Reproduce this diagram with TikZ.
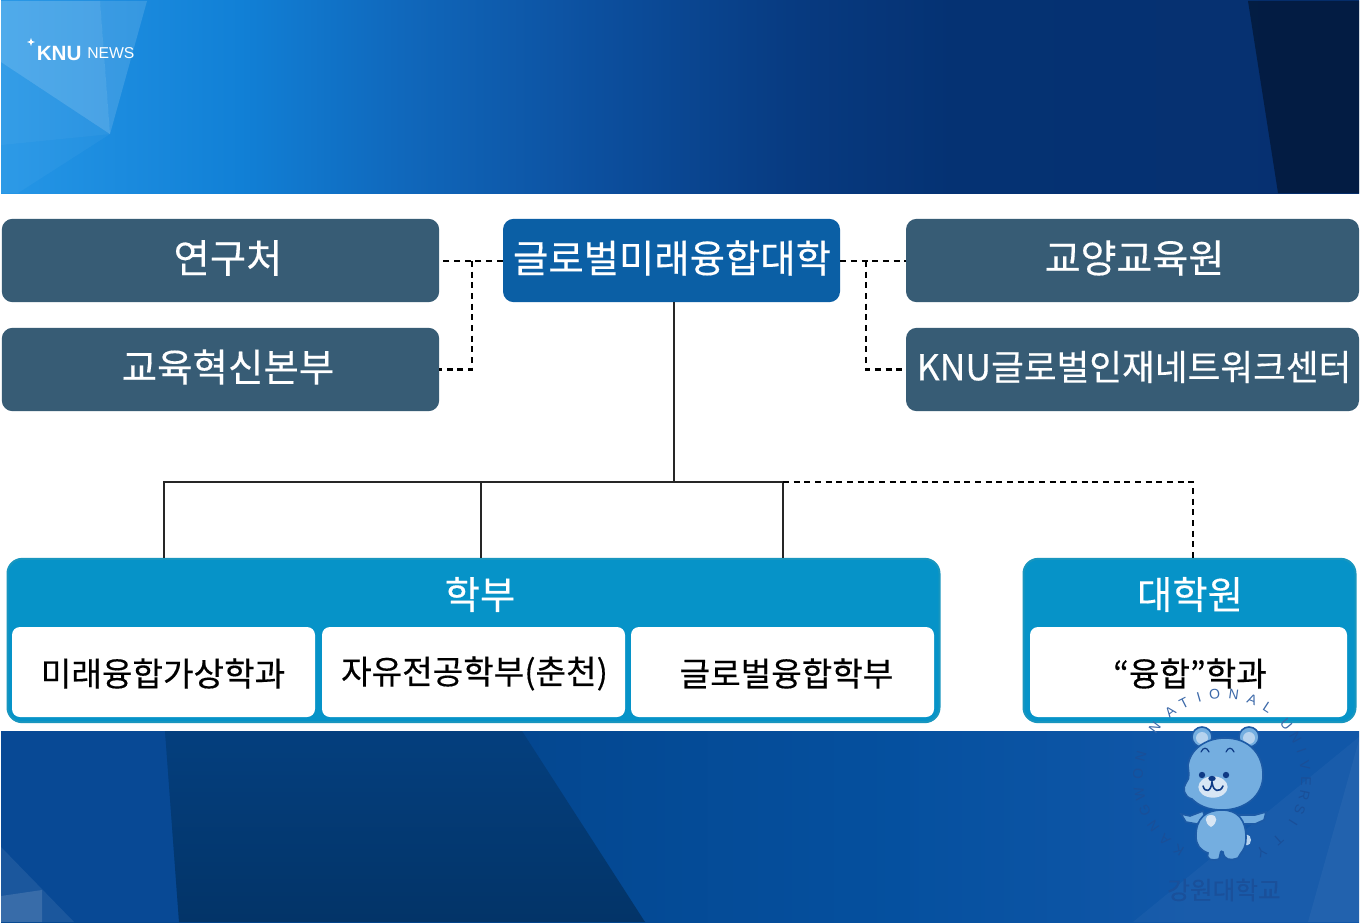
\documentclass[tikz,border=0pt]{standalone}
\usepackage{fontspec}
\setmainfont[FakeBold=0.35]{Noto Sans CJK KR}
\newfontfamily\latinfont{Liberation Sans}
\usetikzlibrary{calc}
\definecolor{slatebox}{HTML}{375C75}
\definecolor{collegebox}{HTML}{0B5FA5}
\definecolor{tealbox}{HTML}{0693C8}
\definecolor{tealedge}{HTML}{1896BF}
\definecolor{bearfill}{HTML}{74AEE0}
\definecolor{bearlight}{HTML}{B7D3EE}
\definecolor{bearpale}{HTML}{D8E6F4}
\definecolor{bearedge}{HTML}{1C5AA6}
\definecolor{beardark}{HTML}{0E3A85}
\definecolor{sealtext}{HTML}{1A509A}
\definecolor{ta}{HTML}{2596E6}\definecolor{tb}{HTML}{1180D6}\definecolor{tc}{HTML}{1068BC}
\definecolor{td}{HTML}{0C4F9E}\definecolor{te}{HTML}{073A80}\definecolor{tf}{HTML}{053273}\definecolor{tg}{HTML}{063070}
\definecolor{bb}{HTML}{044790}\definecolor{bc}{HTML}{05509F}
\definecolor{bd}{HTML}{1157A8}\definecolor{bl}{HTML}{084995}
\definecolor{darktop}{HTML}{043F7E}\definecolor{darkbot}{HTML}{033468}
\pgfdeclarehorizontalshading{topband}{100bp}{
  color(0bp)=(ta); color(25bp)=(ta); color(33.8bp)=(tb); color(39.7bp)=(tc);
  color(47bp)=(td); color(54.4bp)=(te); color(60bp)=(tf); color(75bp)=(tg); color(100bp)=(tg)}
\pgfdeclarehorizontalshading{botband}{100bp}{
  color(0bp)=(bb); color(44bp)=(bb);
  color(58bp)=(bc); color(69bp)=(bd); color(100bp)=(bd)}
\tikzset{
  x=0.75pt,y=-0.75pt,
  sizetxt/.style={font=\fontsize{#1}{#1}\selectfont},
  whitetxt/.style={text=white,inner sep=0pt,sizetxt=29pt},
  blacktxt/.style={text=black,inner sep=0pt,sizetxt=24.9pt},
  box/.style={rounded corners=8pt,inner sep=0pt,anchor=center},
  slatenode/.style={box,fill=slatebox,minimum width=328pt,minimum height=62.5pt},
  outernode/.style={box,rounded corners=11pt,fill=tealbox,draw=tealedge,line width=1.5pt,minimum height=122.5pt},
  innernode/.style={box,rounded corners=6pt,fill=white,minimum height=67.5pt},
  solidline/.style={draw=black!85,line width=0.85pt},
  dashline/.style={draw=black,line width=1.7pt,dash pattern=on 4.5pt off 3.5pt},
  facet/.style={fill=white,opacity=#1,draw=none},
  darkfacet/.style={fill=black,opacity=#1,draw=none},
}
\begin{document}
\begin{tikzpicture}
\useasboundingbox (0,0) rectangle (1360,924);
\fill[white] (0,0) rectangle (1360,924);
% top band
\shade[shading=topband] (1,1) rectangle (1359,193);
\fill[facet=0.20] (1,1) -- (100,1) -- (110,134) -- (1,62) -- cycle;
\fill[facet=0.13] (100,1) -- (147,1) -- (110,134) -- cycle;
\fill[facet=0.07] (1,62) -- (110,134) -- (1,145) -- cycle;
\fill[facet=0.04] (1,145) -- (110,134) -- (18,193) -- (1,193) -- cycle;
\fill[darkfacet=0.40] (1248,1) -- (1359,1) -- (1359,193) -- (1278,193) -- cycle;
% bottom band
\shade[shading=botband] (1,731) rectangle (1359,922);
\fill[fill=bl,draw=none] (1,731) -- (165,731) -- (179,922) -- (1,922) -- cycle;
\fill[facet=0.08] (1,847) -- (74,922) -- (1,922) -- cycle;
\fill[facet=0.13] (1,896) -- (42,890) -- (42,922) -- (1,922) -- cycle;
\shade[top color=darktop,bottom color=darkbot] (165,731) -- (522,731) -- (645,922) -- (179,922) -- cycle;
\fill[facet=0.035] (1133,922) -- (1359,737) -- (1359,922) -- cycle;
\fill[facet=0.04] (1308,922) -- (1359,740) -- (1359,922) -- cycle;
% boxes
\node[slatenode] (yeon) at (220.5,260.5) {};
\node[slatenode] (inno) at (220.5,369.5) {};
\node[box,fill=collegebox,minimum width=252.75pt,minimum height=62.5pt] (coll) at (671.5,260.5) {};
\node[slatenode,minimum width=339.75pt] (gyo) at (1132.5,260.5) {};
\node[slatenode,minimum width=339.75pt] (knu) at (1132.5,369.5) {};
\node[outernode,minimum width=699pt] (hak) at (473.5,640.5) {};
\node[outernode,minimum width=249pt] (grad) at (1189.5,640.5) {};
\node[innernode,minimum width=227.25pt] (i1) at (163.5,672) {};
\node[innernode,minimum width=227.25pt] (i2) at (473.5,672) {};
\node[innernode,minimum width=227.25pt] (i3) at (782.5,672) {};
\node[innernode,minimum width=237.75pt] (i4) at (1188.5,672) {};
% texts
\node[whitetxt,sizetxt=29.6pt] (t1) at (228,258) {연구처};
\node[whitetxt,sizetxt=28.9pt] (t2) at (228,367) {교육혁신본부};
\node[whitetxt,sizetxt=28.8pt] (t3) at (672,258) {글로벌미래융합대학};
\node[whitetxt,sizetxt=29.3pt] (t4) at (1134.5,258) {교양교육원};
\node[whitetxt,sizetxt=26.7pt] (t5) at (1134,367) {KNU글로벌인재네트워크센터};
\node[whitetxt,sizetxt=28.8pt] (t6) at (480,594.5) {학부};
\node[whitetxt,sizetxt=28.8pt] (t7) at (1190,594.5) {대학원};
\node[blacktxt] (t8) at (163,673.5) {미래융합가상학과};
\node[blacktxt] (t9) at (474.5,673.5) {자유전공학부(춘천)};
\node[blacktxt] (t10) at (786.5,673.5) {글로벌융합학부};
\node[blacktxt] (t11) at (1190,673.5) {“융합”학과};
% connectors
\coordinate (bus) at (674,482);
\coordinate (d1) at (164,482);
\coordinate (d2) at (481,482);
\coordinate (d3) at (783,482);
\coordinate (d4) at (1193,482);
\coordinate (lj) at (472,261);
\coordinate (rj) at (866,261);
\draw[solidline] (bus |- coll.south) -- (bus);
\draw[solidline] (d1 |- hak.north) -- (d1) -- (d3) -- (d3 |- hak.north);
\draw[solidline] (d2) -- (d2 |- hak.north);
\draw[dashline] (d3) -- (d4) -- (d4 |- grad.north);
\draw[dashline] (coll.west |- lj) -- (yeon.east |- lj);
\draw[dashline] (lj) -- (lj |- inno.east) -- (inno.east);
\draw[dashline] (coll.east |- rj) -- (gyo.west |- rj);
\draw[dashline] (rj) -- (rj |- knu.west) -- (knu.west);
% logo
\node[text=white,inner sep=0pt,anchor=west,font=\latinfont\bfseries\fontsize{15.5pt}{15.5pt}\selectfont] (logoa) at (36.5,53) {KNU};
\node[text=white,inner sep=0pt,anchor=west,font=\latinfont\fontsize{11.8pt}{11.8pt}\selectfont] (logob) at (87,53) {NEWS};
\fill[white] (31,38) .. controls (31.5,41) and (32,41.5) .. (35,42) .. controls (32,42.5) and (31.5,43) .. (31,46) .. controls (30.5,43) and (30,42.5) .. (27,42) .. controls (30,41.5) and (30.5,41) .. (31,38) -- cycle;
% seal lettering
\foreach \ch/\ang/\col in {K/-149/1A4F98,A/-137/1A4F98,N/-125/1A4F98,G/-113/1A4F98,W/-101/1A4F98,O/-87/1A4F98,N/-75/1A4F98,%
  N/-53/3C69A9,A/-38/3C69A9,T/-27/3C69A9,I/-16/3C69A9,O/-5/3C69A9,N/8/3C69A9,A/21/3C69A9,L/33/3C69A9,%
  U/50/3C69A9,N/61/1A4F98,I/71/1A4F98,V/81/1A4F98,E/92/1A4F98,R/102/1A4F98,S/112/1A4F98,I/122/1A4F98,T/138/1A4F98,Y/152/1A4F98}{
  \definecolor{sealc}{HTML}{\col}
  \node[text=sealc,inner sep=0pt,rotate=-\ang,font=\latinfont\fontsize{10.5pt}{10.5pt}\selectfont] at ({1222+84*sin(\ang)},{778-84*cos(\ang)}) {\ch};
}
\node[text=sealtext,inner sep=0pt,font=\fontsize{18.5pt}{18.5pt}\selectfont] (seal) at (1224,890) {강원대학교};
% bear mascot
\begin{scope}[draw=bearedge,line width=1.2pt]
\draw[fill=bearfill] (1202,737) circle (7.5pt);
\draw[fill=bearfill] (1249,737) circle (7.5pt);
\fill[fill=bearlight] (1202,738) circle (4.5pt);
\fill[fill=bearlight] (1249,738) circle (4.5pt);
% tail
\fill[fill=bearlight] (1247,840) ellipse (3pt and 4pt);
% arms
\draw[fill=bearfill] (1203,811) -- (1190,816) -- (1181,814) -- (1186,822) -- (1197,824) -- (1205,818) -- cycle;
\draw[fill=bearfill] (1238,815) -- (1255,815) -- (1266,812) -- (1264,820) -- (1255,824) -- (1241,824) -- cycle;
% body and feet
\draw[fill=bearfill] (1196,836) .. controls (1196,818) and (1206,810) .. (1222,810) .. controls (1238,810) and (1246,820) .. (1246,838) .. controls (1246,850) and (1240,853) .. (1238,858) .. controls (1230,861) and (1224,860) .. (1223,852) .. controls (1220,850) and (1221,852) .. (1219,859) .. controls (1212,861) and (1206,860) .. (1208,853) .. controls (1200,850) and (1196,845) .. (1196,836) -- cycle;
\fill[fill=bearpale] (1211,815) .. controls (1204,815) and (1204,823) .. (1211,827) .. controls (1218,823) and (1218,815) .. (1211,815) -- cycle;
% head
\draw[fill=bearfill] (1225,738) .. controls (1250,738) and (1263,755) .. (1263,775) .. controls (1263,796) and (1245,810) .. (1222,810) .. controls (1207,810) and (1198,805) .. (1192,799) .. controls (1184,797) and (1182,788) .. (1186,783) .. controls (1191,778) and (1188,770) .. (1188,765) .. controls (1190,750) and (1205,738) .. (1225,738) -- cycle;
\fill[fill=bearpale] (1213,787) ellipse (11pt and 8pt);
\end{scope}
\fill[beardark] (1202,775) circle (2.4pt);
\fill[beardark] (1226,775) circle (2.4pt);
\fill[beardark] (1212,778.5) ellipse (2.8pt and 2pt);
\draw[beardark,line width=1.2pt,line cap=round] (1203,786) .. controls (1205,793) and (1211,792) .. (1212,782) .. controls (1213,792) and (1220,793) .. (1223,786);
\draw[beardark,line width=0.9pt,line cap=round] (1201,752) .. controls (1203,747) and (1207,747) .. (1209,752);
\draw[beardark,line width=0.9pt,line cap=round] (1226,752) .. controls (1228,747) and (1232,747) .. (1234,752);
\end{tikzpicture}
\end{document}
